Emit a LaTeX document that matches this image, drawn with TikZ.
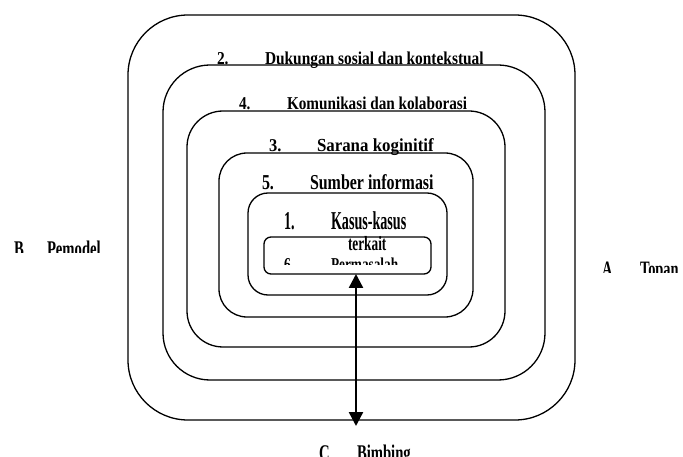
\documentclass[tikz,border=0pt]{standalone}
\usepackage{fontspec}
\setmainfont{Liberation Serif}
\usepackage{graphicx}
\usetikzlibrary{arrows.meta}
\newcommand\lbl[3]{\pgfmathsetmacro\fsz{#1*1.146}\pgfmathsetmacro\ysc{#2*0.8/1.146*1.25}%
  \fontsize{\fsz}{\fsz}\selectfont\bfseries\scalebox{0.8}[\ysc]{#3}}
\tikzset{
  ring/.style={draw, line width=1.3pt, rectangle, inner sep=0pt, outer sep=0pt},
  txt/.style={anchor=base west, inner sep=0pt, outer sep=0pt},
  dbl/.style={line width=2.4pt, {Triangle[width=14pt,length=14pt]}-{Triangle[width=14pt,length=14pt]}}
}
\begin{document}
\begin{tikzpicture}[x=1pt,y=-1pt]
\useasboundingbox (0,0) rectangle (683,457);
% nested rounded frames
\node[ring, rounded corners=60pt, minimum width=447pt, minimum height=405pt] (r1) at (351.5,217.5) {};
\node[ring, rounded corners=47pt, minimum width=382pt, minimum height=315pt] (r2) at (354,222.5) {};
\node[ring, rounded corners=36pt, minimum width=318pt, minimum height=236pt] (r3) at (346,229) {};
\node[ring, rounded corners=28pt, minimum width=254pt, minimum height=164pt] (r4) at (346,235) {};
\node[ring, rounded corners=20pt, minimum width=199pt, minimum height=102pt] (r5) at (347.5,244) {};
\node[ring, rounded corners=7pt, minimum width=167pt, minimum height=37pt] (r6) at (347.5,255.5) {};
% labels
\node[txt] (n2) at (217,65) {\lbl{16.8}{1.08}{2.}};
\node[txt] (t2) at (265,65) {\lbl{16.8}{1.08}{Dukungan sosial dan kontekstual}};
\node[txt] (n4) at (239,110) {\lbl{16.6}{1.09}{4.}};
\node[txt] (t4) at (287,110) {\lbl{16.6}{1.09}{Komunikasi dan kolaborasi}};
\node[txt] (n3) at (269,152) {\lbl{18}{1.0}{3.}};
\node[txt] (t3) at (317,152) {\lbl{18.4}{1.0}{Sarana koginitif}};
\node[txt] (n5) at (262,190) {\lbl{17.4}{1.22}{5.}};
\node[txt] (t5) at (310,190) {\lbl{17.4}{1.22}{Sumber informasi}};
\node[txt] (n1) at (284,230) {\lbl{15.4}{1.67}{1.}};
\node[txt] (t1) at (331,230) {\lbl{15.4}{1.67}{Kasus-kasus}};
\node[txt] (tk) at (348,251) {\lbl{14.5}{1.4}{terkait}};
\begin{scope}
  \clip (250,240) rectangle (430,265);
  \node[txt] (n6) at (284,270) {\lbl{14.5}{1.25}{6.}};
  \node[txt] (t6) at (331,270) {\lbl{14.5}{1.25}{Permasalah}};
\end{scope}
\begin{scope}
  \clip (0,230) rectangle (120,253);
  \node[txt] (nB) at (14,257) {\lbl{16}{1.4}{B}};
  \node[txt] (tB) at (47,257) {\lbl{16}{1.4}{Pemodel}};
\end{scope}
\begin{scope}
  \clip (585,250) rectangle (683,273);
  \node[txt] (nA) at (602,277) {\lbl{15.7}{1.4}{A}};
  \node[txt] (tA) at (640,277) {\lbl{15.7}{1.4}{Topan}};
\end{scope}
\begin{scope}
  \clip (300,435) rectangle (440,457);
  \node[txt] (nC) at (319,460) {\lbl{16}{1.4}{C}};
  \node[txt] (tC) at (357,460) {\lbl{16}{1.4}{Bimbing}};
\end{scope}
% double-headed arrow
\coordinate (ax) at (356,0);
\draw[dbl, shorten >=-6pt] (r6.south -| ax) -- (r1.south -| ax);
\end{tikzpicture}
\end{document}
